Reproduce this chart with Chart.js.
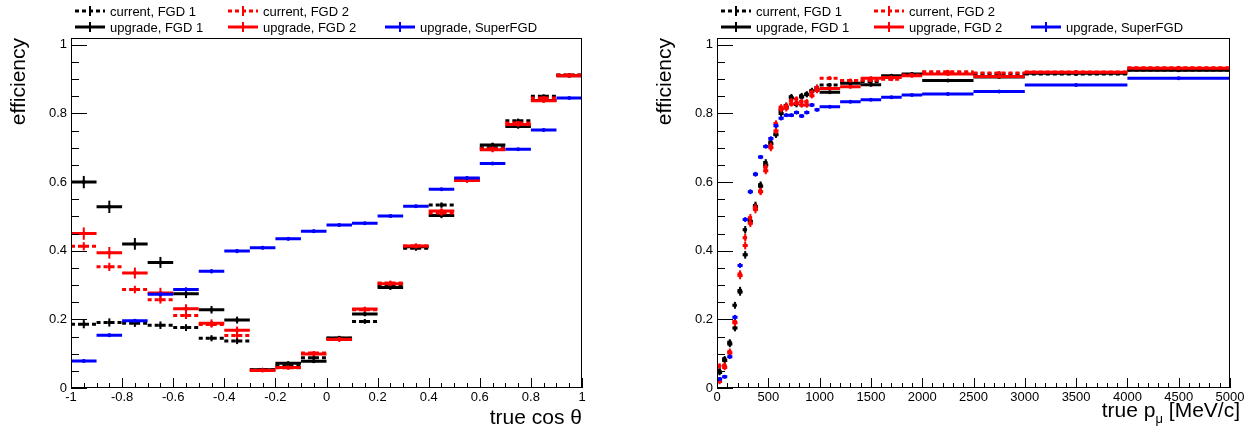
<!DOCTYPE html>
<html>
<head>
<meta charset="utf-8">
<title>Muon efficiency</title>
<script src="https://cdn.jsdelivr.net/npm/chart.js@4.4.0/dist/chart.umd.min.js"></script>
<style>
  html, body { margin: 0; padding: 0; background: #fff; }
  body { width: 1258px; height: 434px; position: relative; overflow: hidden;
         font-family: "Liberation Sans", Arial, sans-serif; }
  .panel { position: absolute; top: 0; width: 629px; height: 434px; }
  .panel canvas { position: absolute; left: 0; top: 0; }
  .item { position: absolute; height: 14px; display: flex; align-items: center;
          white-space: nowrap; font-size: 13px; color: #000; }
  .item svg { margin-right: 5px; flex: none; }
  .xtitle { position: absolute; font-size: 21px; line-height: 21px; white-space: nowrap; color: #000; }
  .xtitle sub { font-size: 13px; vertical-align: -6px; }
</style>
</head>
<body>
<div class="panel" id="leftPanel" style="left:0"><canvas id="cosChart" width="629" height="434"></canvas></div>
<div class="panel" id="rightPanel" style="left:629px"><canvas id="momChart" width="629" height="434"></canvas></div>
<div class="xtitle" style="right:18px; top:399px">true p<sub>μ</sub> [MeV/c]</div>
<script>
// ---- left panel: efficiency vs true cos(theta), bins of 0.1 ----
const cosEdges = [-1, -0.9, -0.8, -0.7, -0.6, -0.5, -0.4, -0.3, -0.2, -0.1, 0,
                  0.1, 0.2, 0.3, 0.4, 0.5, 0.6, 0.7, 0.8, 0.9, 1];
const cosCurF1 = [0.186, 0.191, 0.189, 0.183, 0.176, 0.145, 0.137, 0.053, 0.065, 0.088,
                  0.145, 0.194, 0.298, 0.407, 0.533, 0.610, 0.700, 0.779, 0.850, 0.912];
const cosUpF1  = [0.600, 0.528, 0.420, 0.366, 0.275, 0.228, 0.198, 0.053, 0.072, 0.078,
                  0.146, 0.216, 0.293, 0.412, 0.503, 0.607, 0.708, 0.762, 0.838, 0.910];
const cosCurF2 = [0.413, 0.353, 0.287, 0.257, 0.211, 0.185, 0.153, 0.052, 0.059, 0.102,
                  0.142, 0.228, 0.306, 0.414, 0.510, 0.606, 0.697, 0.772, 0.845, 0.912];
const cosUpF2  = [0.450, 0.394, 0.335, 0.277, 0.231, 0.189, 0.168, 0.051, 0.060, 0.099,
                  0.141, 0.230, 0.304, 0.414, 0.516, 0.605, 0.694, 0.768, 0.837, 0.910];
const cosSFGD  = [0.079, 0.154, 0.196, 0.273, 0.287, 0.340, 0.399, 0.409, 0.435, 0.457,
                  0.475, 0.480, 0.501, 0.530, 0.579, 0.612, 0.654, 0.696, 0.752, 0.845];
const cosErrCurF1 = [0.012, 0.012, 0.011, 0.011, 0.010, 0.009, 0.009, 0.004, 0.005, 0.005,
                     0.006, 0.007, 0.007, 0.007, 0.008, 0.007, 0.007, 0.006, 0.005, 0.004];
const cosErrUpF1  = [0.018, 0.018, 0.017, 0.016, 0.013, 0.011, 0.010, 0.004, 0.005, 0.005,
                     0.006, 0.007, 0.007, 0.007, 0.008, 0.007, 0.007, 0.006, 0.005, 0.004];
const cosErrCurF2 = [0.012, 0.012, 0.011, 0.011, 0.010, 0.009, 0.009, 0.004, 0.005, 0.005,
                     0.006, 0.007, 0.007, 0.007, 0.008, 0.007, 0.007, 0.006, 0.005, 0.004];
const cosErrUpF2  = [0.018, 0.017, 0.016, 0.015, 0.013, 0.011, 0.011, 0.004, 0.005, 0.005,
                     0.006, 0.007, 0.007, 0.007, 0.008, 0.007, 0.007, 0.006, 0.005, 0.004];
const cosErrSFGD  = [0.004, 0.005, 0.005, 0.006, 0.006, 0.006, 0.006, 0.005, 0.005, 0.005,
                     0.004, 0.004, 0.004, 0.004, 0.004, 0.004, 0.003, 0.003, 0.003, 0.002];

// ---- right panel: efficiency vs true p_mu [MeV/c], variable bins ----
const momEdges = [0, 50, 100, 150, 200, 250, 300, 350, 400, 450, 500, 550, 600, 650, 700,
                  750, 800, 850, 900, 950, 1000, 1200, 1400, 1600, 1800, 2000, 2500, 3000, 4000, 5000];
const momCurF1 = [0.051, 0.085, 0.133, 0.241, 0.284, 0.461, 0.490, 0.532, 0.592, 0.657,
                  0.717, 0.740, 0.808, 0.823, 0.849, 0.826, 0.852, 0.857, 0.867, 0.876,
                  0.883, 0.895, 0.893, 0.905, 0.912, 0.918, 0.915, 0.915, 0.927];
const momUpF1  = [0.045, 0.080, 0.128, 0.175, 0.280, 0.388, 0.485, 0.528, 0.588, 0.650,
                  0.712, 0.738, 0.800, 0.818, 0.845, 0.830, 0.848, 0.855, 0.865, 0.870,
                  0.862, 0.888, 0.884, 0.910, 0.915, 0.896, 0.906, 0.917, 0.926];
const momCurF2 = [0.064, 0.066, 0.106, 0.194, 0.332, 0.438, 0.496, 0.526, 0.574, 0.643,
                  0.705, 0.771, 0.818, 0.822, 0.837, 0.842, 0.835, 0.834, 0.862, 0.876,
                  0.903, 0.896, 0.897, 0.900, 0.912, 0.922, 0.918, 0.921, 0.933];
const momUpF2  = [0.019, 0.060, 0.102, 0.190, 0.328, 0.415, 0.480, 0.520, 0.572, 0.633,
                  0.700, 0.749, 0.812, 0.815, 0.828, 0.830, 0.825, 0.825, 0.852, 0.867,
                  0.873, 0.878, 0.903, 0.905, 0.910, 0.915, 0.908, 0.920, 0.932];
const momSFGD  = [0.026, 0.033, 0.091, 0.206, 0.357, 0.491, 0.572, 0.623, 0.673, 0.704,
                  0.727, 0.764, 0.786, 0.795, 0.795, 0.803, 0.793, 0.803, 0.825, 0.811,
                  0.820, 0.834, 0.840, 0.847, 0.854, 0.857, 0.864, 0.883, 0.903];
const momErrFGD  = [0.008, 0.008, 0.009, 0.010, 0.011, 0.011, 0.011, 0.011, 0.010, 0.010,
                    0.010, 0.009, 0.009, 0.009, 0.008, 0.008, 0.008, 0.008, 0.008, 0.008,
                    0.005, 0.005, 0.005, 0.005, 0.005, 0.004, 0.004, 0.003, 0.003];
const momErrSFGD = [0.005, 0.005, 0.006, 0.007, 0.007, 0.007, 0.007, 0.007, 0.006, 0.006,
                    0.006, 0.006, 0.006, 0.005, 0.005, 0.005, 0.005, 0.005, 0.005, 0.005,
                    0.003, 0.003, 0.003, 0.003, 0.003, 0.003, 0.002, 0.002, 0.002];

// tick labels
const effTicks = [0, 0.2, 0.4, 0.6, 0.8, 1];
const cosTicks = [-1, -0.8, -0.6, -0.4, -0.2, 0, 0.2, 0.4, 0.6, 0.8, 1];
const momTicks = [0, 500, 1000, 1500, 2000, 2500, 3000, 3500, 4000, 4500, 5000];

const seriesLabels = ['current, FGD 1', 'current, FGD 2', 'upgrade, FGD 1', 'upgrade, FGD 2', 'upgrade, SuperFGD'];

const FONT = '"Liberation Sans", Arial, sans-serif';
const BLACK = '#000000', RED = '#ff0000', BLUE = '#0000ff';

// horizontal bin segments, broken by null points between bins
function segments(edges, vals) {
    const pts = [];
    vals.forEach((v, i) => {
        pts.push({x: edges[i], y: v}, {x: edges[i + 1], y: v}, {x: edges[i + 1], y: null});
    });
    return pts;
}

function series(label, color, dashed, order, edges, vals, errs) {
    return {
        label,
        data: segments(edges, vals),
        borderColor: color,
        borderWidth: 3,
        borderDash: dashed ? [4, 3] : [],
        borderCapStyle: 'butt',
        pointRadius: 0,
        tension: 0,
        fill: false,
        spanGaps: false,
        order,
        // extra info for the error bar plugin
        edges, values: vals, errors: errs
    };
}

// vertical error bars and a small marker at each bin centre
const errorBars = {
    id: 'errorBars',
    afterDatasetDraw(chart, args) {
        const ds = chart.data.datasets[args.index];
        const xs = chart.scales.x, ys = chart.scales.y;
        const ctx = chart.ctx;
        const a = chart.chartArea;
        ctx.save();
        ctx.beginPath();
        ctx.rect(a.left, a.top, a.right - a.left, a.bottom - a.top);
        ctx.clip();
        ctx.strokeStyle = ds.borderColor;
        ctx.fillStyle = ds.borderColor;
        ctx.lineWidth = 2;
        ds.values.forEach((v, i) => {
            const px = xs.getPixelForValue((ds.edges[i] + ds.edges[i + 1]) / 2);
            const e = ds.errors[i];
            ctx.beginPath();
            ctx.moveTo(px, ys.getPixelForValue(v - e));
            ctx.lineTo(px, ys.getPixelForValue(v + e));
            ctx.stroke();
            ctx.beginPath();
            ctx.arc(px, ys.getPixelForValue(v), 2, 0, 2 * Math.PI);
            ctx.fill();
        });
        ctx.restore();
    }
};

// ROOT-like frame with inward ticks
const frameTicks = {
    id: 'frameTicks',
    afterDraw(chart, args, o) {
        const {ctx, chartArea: a, scales: {x, y}} = chart;
        ctx.save();
        ctx.strokeStyle = '#000';
        ctx.lineWidth = 1;
        ctx.strokeRect(a.left + 0.5, a.top + 0.5, a.right - a.left - 1, a.bottom - a.top - 1);
        ctx.beginPath();
        for (let k = 0; k <= o.yCount; k++) {
            const py = Math.round(y.getPixelForValue(k * o.yMinor)) + 0.5;
            const len = k % o.yEvery === 0 ? 16 : 8;
            ctx.moveTo(a.left, py);
            ctx.lineTo(a.left + len, py);
        }
        for (let k = 0; k <= o.xCount; k++) {
            const px = Math.round(x.getPixelForValue(o.xMin + k * o.xMinor)) + 0.5;
            const len = k % o.xEvery === 0 ? 10 : 5;
            ctx.moveTo(px, a.bottom);
            ctx.lineTo(px, a.bottom - len);
        }
        ctx.stroke();
        ctx.restore();
    }
};

function yAxis(width, titlePad) {
    return {
        type: 'linear', min: 0, max: 1.02,
        grid: {display: false, drawTicks: false},
        border: {display: false},
        ticks: {padding: 4, color: '#000', font: {family: FONT, size: 13},
                callback: v => String(v)},
        afterBuildTicks: s => { s.ticks = effTicks.map(v => ({value: v})); },
        title: {display: true, text: 'efficiency', align: 'end', color: '#000',
                font: {family: FONT, size: 21}, padding: {top: titlePad, bottom: 0}},
        afterFit: s => { s.width = width; }
    };
}

function xAxis(min, max, tickValues, title) {
    return {
        type: 'linear', min, max,
        grid: {display: false, drawTicks: false},
        border: {display: false},
        ticks: {padding: 2, color: '#000', font: {family: FONT, size: 13},
                maxRotation: 0, autoSkip: false, callback: v => String(v)},
        afterBuildTicks: s => { s.ticks = tickValues.map(v => ({value: v})); },
        title: title ? {display: true, text: title, align: 'end', color: '#000',
                        font: {family: FONT, size: 21}, padding: {top: 0, bottom: 3}} : {display: false},
        afterFit: s => { s.height = 46; }
    };
}

function makeChart(id, datasets, xScale, yScale, padRight, ticksOpt) {
    return new Chart(document.getElementById(id), {
        type: 'line',
        data: {datasets},
        options: {
            responsive: false,
            animation: false,
            events: [],
            layout: {padding: {top: 38, right: padRight, bottom: 0, left: 0}},
            scales: {x: xScale, y: yScale},
            plugins: {legend: {display: false}, tooltip: {enabled: false}, frameTicks: ticksOpt}
        },
        plugins: [errorBars, frameTicks]
    });
}

makeChart('cosChart', [
    series(seriesLabels[0], BLACK, true, 5, cosEdges, cosCurF1, cosErrCurF1),
    series(seriesLabels[2], BLACK, false, 4, cosEdges, cosUpF1, cosErrUpF1),
    series(seriesLabels[1], RED, true, 3, cosEdges, cosCurF2, cosErrCurF2),
    series(seriesLabels[3], RED, false, 2, cosEdges, cosUpF2, cosErrUpF2),
    series(seriesLabels[4], BLUE, false, 1, cosEdges, cosSFGD, cosErrSFGD)
], xAxis(-1, 1, cosTicks, 'true cos θ'), yAxis(71, 7), 47,
   {yMinor: 0.05, yCount: 20, yEvery: 4, xMin: -1, xMinor: 0.05, xCount: 40, xEvery: 4});

makeChart('momChart', [
    series(seriesLabels[0], BLACK, true, 5, momEdges, momCurF1, momErrFGD),
    series(seriesLabels[2], BLACK, false, 4, momEdges, momUpF1, momErrFGD),
    series(seriesLabels[1], RED, true, 3, momEdges, momCurF2, momErrFGD),
    series(seriesLabels[3], RED, false, 2, momEdges, momUpF2, momErrFGD),
    series(seriesLabels[4], BLUE, false, 1, momEdges, momSFGD, momErrSFGD)
], xAxis(0, 5000, momTicks, null), yAxis(88, 24), 28,
   {yMinor: 0.05, yCount: 20, yEvery: 4, xMin: 0, xMinor: 100, xCount: 50, xEvery: 5});

// legends: two rows, three columns (current row has two entries)
const legendItems = [
    {label: seriesLabels[0], color: BLACK, dashed: true, col: 0, row: 0},
    {label: seriesLabels[1], color: RED, dashed: true, col: 1, row: 0},
    {label: seriesLabels[2], color: BLACK, dashed: false, col: 0, row: 1},
    {label: seriesLabels[3], color: RED, dashed: false, col: 1, row: 1},
    {label: seriesLabels[4], color: BLUE, dashed: false, col: 2, row: 1}
];
const legendCols = [75, 228, 385];
const legendRows = [4, 20];

function addLegend(panelId, offset) {
    const panel = document.getElementById(panelId);
    legendItems.forEach(it => {
        const div = document.createElement('div');
        div.className = 'item';
        div.style.left = (legendCols[it.col] + offset) + 'px';
        div.style.top = legendRows[it.row] + 'px';
        const dash = it.dashed ? ' stroke-dasharray="4 3"' : '';
        div.innerHTML = '<svg width="30" height="14" viewBox="0 0 30 14">' +
            '<line x1="0" y1="7" x2="30" y2="7" stroke="' + it.color + '" stroke-width="3"' + dash + '/>' +
            '<line x1="15" y1="2" x2="15" y2="12" stroke="' + it.color + '" stroke-width="2"/>' +
            '</svg><span>' + it.label + '</span>';
        panel.appendChild(div);
    });
}
addLegend('leftPanel', 0);
addLegend('rightPanel', 17);
</script>
</body>
</html>
